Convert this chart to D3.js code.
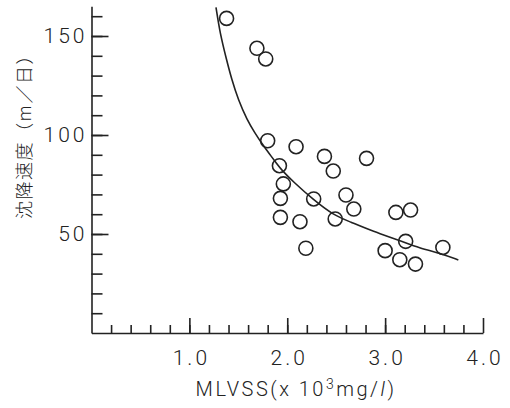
<!DOCTYPE html>
<html>
<head>
<meta charset="utf-8">
<script src="https://cdn.jsdelivr.net/npm/d3@7"></script>
<style>
  body { margin: 0; background: #fff; }
  svg { display: block; }
  .axis path, .axis line { stroke: #222; stroke-width: 1.6; }
  .axis text { font-family: Roboto, "Noto Sans", sans-serif; font-weight: 300; fill: #222; }
</style>
</head>
<body>
<div id="graph"></div>
<script>
// Données
const mlvss = [1.38, 1.69, 1.78, 1.80, 2.09, 2.38, 2.81, 2.47, 1.92, 1.96, 1.93, 2.27, 2.60,
  2.68, 1.93, 2.13, 2.49, 3.11, 3.26, 2.19, 3.21, 3.00, 3.15, 3.31, 3.59];
const vitesse = [158.9, 143.8, 138.4, 97.1, 94.1, 89.2, 88.2, 81.8, 84.5, 75.3, 68.0, 67.7, 69.7,
  62.6, 58.4, 56.2, 57.6, 60.9, 62.1, 42.8, 46.3, 41.6, 37.0, 34.8, 43.2];

// Courbe tracée à la main
const curveX = [1.272, 1.313, 1.38, 1.43, 1.50, 1.59, 1.67, 1.74, 1.81, 1.90, 1.94, 2.06, 2.27,
  2.47, 2.64, 2.88, 3.135, 3.356, 3.56, 3.748];
const curveY = [164.5, 151.4, 138, 128.5, 117.7, 107.6, 101.0, 95.8, 91.0, 85.0, 82.5, 76.4, 67.2,
  59.6, 56.2, 51.2, 47.0, 42.8, 40.3, 36.9];

const xMajor = [1, 2, 3, 4];
const xMinor = d3.range(0.2, 4.0, 0.2);
const yMajor = [50, 100, 150];
const yMinor = d3.range(10, 170, 10);

const width = 510, height = 408;

const svg = d3.select("#graph")
  .append("svg")
  .attr("width", width)
  .attr("height", height);

svg.append("rect").attr("width", width).attr("height", height).attr("fill", "#fff");

// Échelles
const xScale = d3.scaleLinear().domain([0, 4]).range([91.5, 483]);
const yScale = d3.scaleLinear().domain([0, 165]).range([333, 6.3]);

// Axe X
svg.append("g")
  .attr("class", "axis")
  .attr("transform", `translate(0,${yScale(0)})`)
  .call(d3.axisBottom(xScale).tickValues(xMinor).tickSizeInner(-8).tickSizeOuter(0).tickFormat(""));

const xAx = svg.append("g")
  .attr("class", "axis")
  .attr("transform", `translate(0,${yScale(0)})`)
  .call(d3.axisBottom(xScale).tickValues(xMajor).tickSizeInner(-15).tickSizeOuter(0)
    .tickPadding(17).tickFormat(d3.format(".1f")));
xAx.select(".domain").remove();
xAx.selectAll("text")
  .style("font-size", "21px")
  .style("letter-spacing", "3px")
  .attr("dx", 1.5);

// Axe Y
svg.append("g")
  .attr("class", "axis")
  .attr("transform", `translate(${xScale(0)},0)`)
  .call(d3.axisLeft(yScale).tickValues(yMinor).tickSizeInner(-11).tickSizeOuter(0).tickFormat(""));

const yAx = svg.append("g")
  .attr("class", "axis")
  .attr("transform", `translate(${xScale(0)},0)`)
  .call(d3.axisLeft(yScale).tickValues(yMajor).tickSizeInner(-17).tickSizeOuter(0).tickPadding(4));
yAx.select(".domain").remove();
yAx.selectAll("text")
  .style("font-size", "21px")
  .style("letter-spacing", "3px");

// Courbe
const line = d3.line()
  .x(i => xScale(curveX[i]))
  .y(i => yScale(curveY[i]))
  .curve(d3.curveBasis);

svg.append("path")
  .attr("d", line(d3.range(curveX.length)))
  .attr("fill", "none")
  .attr("stroke", "#222")
  .attr("stroke-width", 1.6);

// Points
svg.selectAll(".pt")
  .data(d3.range(mlvss.length))
  .enter()
  .append("circle")
  .attr("class", "pt")
  .attr("cx", i => xScale(mlvss[i]))
  .attr("cy", i => yScale(vitesse[i]))
  .attr("r", 7)
  .attr("fill", "none")
  .attr("stroke", "#222")
  .attr("stroke-width", 1.6);

// Labels des axes
const xLabel = svg.append("text")
  .attr("x", 296)
  .attr("y", 396)
  .attr("text-anchor", "middle")
  .style("font-family", "Roboto, 'Noto Sans', sans-serif")
  .style("font-weight", "300")
  .style("font-size", "20px")
  .style("letter-spacing", "2.5px")
  .style("fill", "#222");
xLabel.append("tspan").text("MLVSS(x 10");
xLabel.append("tspan").attr("dy", -7).style("font-size", "14px").text("3");
xLabel.append("tspan").attr("dy", 7).text("mg/");
xLabel.append("tspan").style("font-style", "italic").text("l");
xLabel.append("tspan").text(")");

svg.append("text")
  .attr("transform", "translate(31,132) rotate(-90)")
  .attr("text-anchor", "middle")
  .style("font-family", "'Noto Sans CJK JP', sans-serif")
  .style("font-weight", "300")
  .style("font-size", "18px")
  .style("letter-spacing", "1.5px")
  .style("fill", "#222")
  .text("沈降速度（m／日）");
</script>
</body>
</html>
